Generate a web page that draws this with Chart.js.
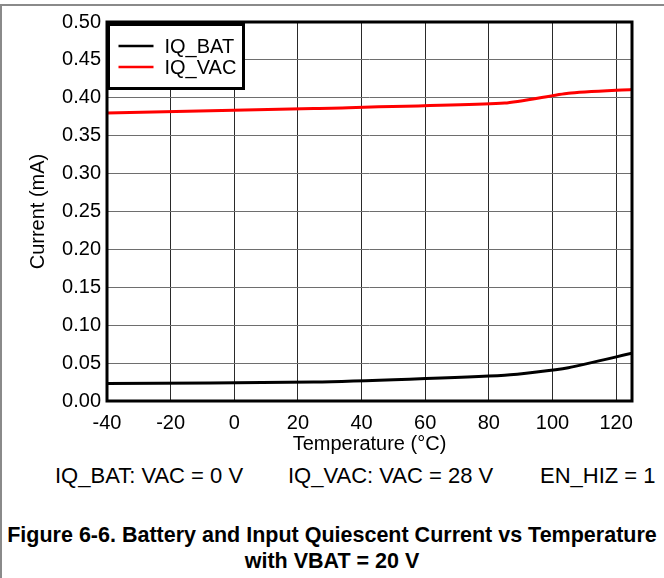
<!DOCTYPE html>
<html>
<head>
<meta charset="utf-8">
<script src="https://cdn.jsdelivr.net/npm/chart.js@4/dist/chart.umd.min.js"></script>
<style>
  body { margin: 0; background: #fff; }
  #wrap { position: relative; width: 664px; height: 578px; overflow: hidden; font-family: "Liberation Sans", Arial, sans-serif; color: #000; }
  #frame { position: absolute; left: 0; top: 4px; width: 700px; height: 600px; border-top: 2px solid #8a8a8a; border-left: 2px solid #8a8a8a; }
  #chart { position: absolute; left: 0; top: 0; }
  .note { position: absolute; top: 462px; font-size: 22px; line-height: 28px; white-space: nowrap; }
  #caption { position: absolute; left: 0; top: 522px; width: 664px; text-align: center; font-weight: bold; font-size: 21.5px; line-height: 26px; white-space: nowrap; }
</style>
</head>
<body>
<div id="wrap">
  <div id="frame"></div>
  <canvas id="chart" width="664" height="460"></canvas>
  <div class="note" style="left:55px">IQ_BAT: VAC = 0 V</div>
  <div class="note" style="left:288px">IQ_VAC: VAC = 28 V</div>
  <div class="note" style="left:540px">EN_HIZ = 1</div>
  <div id="caption">Figure 6-6. Battery and Input Quiescent Current vs Temperature<br>with VBAT = 20 V</div>
</div>
<script>
// values
const temps = [-40, 25, 85, 105, 125]
const iqBat = [0.023, 0.025, 0.034, 0.044, 0.063]
const iqVac = [0.380, 0.386, 0.393, 0.406, 0.411]
const xTicks = [-40, -20, 0, 20, 40, 60, 80, 100, 120]
const seriesNames = ['IQ_BAT', 'IQ_VAC']
const seriesColors = ['#000000', '#ff0000']

const FONT = '"Liberation Sans", Arial, sans-serif'

// frame around plot + boxed legend in the top-left corner
const frameAndLegend = {
  id: 'frameAndLegend',
  afterDatasetsDraw(chart) {
    const { ctx, chartArea: a } = chart
    ctx.save()
    ctx.strokeStyle = '#000'
    ctx.lineWidth = 3
    ctx.strokeRect(a.left, a.top, a.right - a.left, a.bottom - a.top)

    const bx = a.left + 1.5, by = a.top + 2.5, bw = 135, bh = 64
    ctx.fillStyle = '#fff'
    ctx.fillRect(bx, by, bw, bh)
    ctx.lineWidth = 3
    ctx.strokeRect(bx, by, bw, bh)

    ctx.font = '20px ' + FONT
    ctx.textBaseline = 'middle'
    seriesNames.forEach((name, i) => {
      const y = by + 21.5 + i * 21
      ctx.strokeStyle = seriesColors[i]
      ctx.lineWidth = 2.5
      ctx.beginPath()
      ctx.moveTo(bx + 10, y)
      ctx.lineTo(bx + 45, y)
      ctx.stroke()
      ctx.fillStyle = '#000'
      ctx.fillText(name, bx + 56, y + 1)
    })
    ctx.restore()
  }
}

new Chart(document.getElementById('chart'), {
  type: 'line',
  data: {
    datasets: [
      { label: seriesNames[0], data: temps.map((t, i) => ({ x: t, y: iqBat[i] })), borderColor: seriesColors[0], borderWidth: 3, pointRadius: 0, tension: 0.2 },
      { label: seriesNames[1], data: temps.map((t, i) => ({ x: t, y: iqVac[i] })), borderColor: seriesColors[1], borderWidth: 3, pointRadius: 0, tension: 0.2 }
    ]
  },
  options: {
    responsive: false,
    animation: false,
    layout: { padding: { left: 0, top: 22, right: 32, bottom: 0 } },
    plugins: { legend: { display: false }, tooltip: { enabled: false } },
    scales: {
      x: {
        type: 'linear',
        min: -40,
        max: 125,
        afterBuildTicks: (scale) => { scale.ticks = xTicks.map(v => ({ value: v })) },
        afterFit: (scale) => { scale.height = 59 },
        grid: { color: '#2a2a2a', lineWidth: 1, drawTicks: false },
        border: { display: false },
        ticks: { color: '#000', font: { family: FONT, size: 20 }, padding: 10, maxRotation: 0 },
        title: { display: true, text: 'Temperature (°C)', color: '#000', font: { family: FONT, size: 20 }, padding: { top: 0, bottom: 4 } }
      },
      y: {
        min: 0,
        max: 0.5,
        ticks: { stepSize: 0.05, color: '#000', font: { family: FONT, size: 20 }, padding: 6, callback: v => v.toFixed(2) },
        afterFit: (scale) => { scale.width = 107 },
        grid: { color: '#6e6e6e', lineWidth: 1, drawTicks: false },
        border: { display: false },
        title: { display: true, text: 'Current (mA)', color: '#000', font: { family: FONT, size: 20 }, padding: { top: 26, bottom: 0 } }
      }
    }
  },
  plugins: [frameAndLegend]
})
</script>
</body>
</html>
